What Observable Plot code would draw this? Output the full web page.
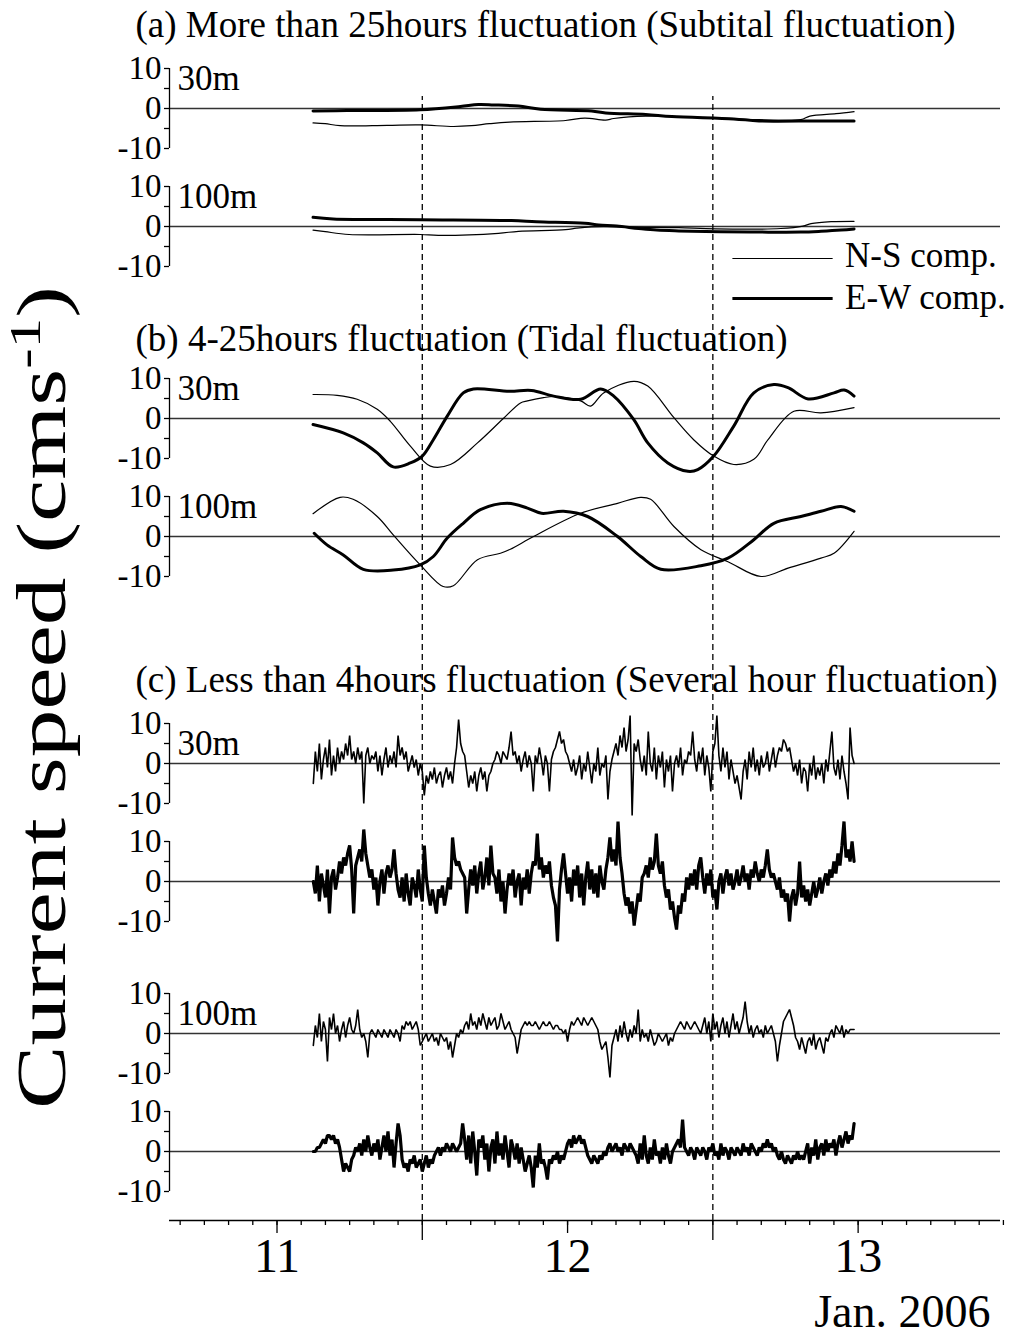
<!DOCTYPE html>
<html><head><meta charset="utf-8">
<script src="https://cdn.jsdelivr.net/npm/d3@7"></script>
<script src="https://cdn.jsdelivr.net/npm/@observablehq/plot@0.6"></script>
<style>
html,body{margin:0;padding:0;background:#fff;}
</style>
</head><body><div id="chart"></div>
<script>
// ---------------- DATA (day of Jan. 2006, cm/s) ----------------
const a30_NS = [[11.124,-3.6],[11.166,-3.8],[11.217,-4.3],[11.379,-4.2],[11.493,-4.1],[11.607,-4.5],[11.669,-4.3],[11.731,-3.8],[11.800,-3.4],[11.993,-3.0],[12.059,-2.4],[12.131,-2.9],[12.159,-2.5],[12.269,-1.9],[12.459,-2.2],[12.572,-2.5],[12.659,-2.8],[12.803,-2.8],[12.834,-1.9],[12.924,-1.3],[12.986,-0.8]];
const a30_EW = [[11.124,-0.6],[11.241,-0.5],[11.493,-0.3],[11.631,0.5],[11.693,1.0],[11.745,0.9],[11.831,0.6],[11.907,-0.2],[12.083,-0.6],[12.131,-1.1],[12.269,-1.5],[12.359,-2.0],[12.572,-2.6],[12.659,-3.1],[12.859,-3.1],[12.986,-3.1]];
const a100_NS = [[11.124,-0.9],[11.166,-1.3],[11.248,-2.0],[11.493,-2.0],[11.555,-2.2],[11.762,-1.7],[11.831,-1.2],[11.993,-0.8],[12.031,-0.4],[12.083,-0.1],[12.286,-0.2],[12.383,-0.3],[12.510,-0.6],[12.734,-0.5],[12.810,0.1],[12.838,0.7],[12.907,1.2],[12.986,1.3]];
const a100_EW = [[11.124,2.3],[11.193,1.9],[11.493,1.7],[11.807,1.5],[11.893,1.2],[12.059,0.8],[12.107,0.4],[12.169,0.1],[12.245,-0.5],[12.307,-0.9],[12.383,-1.1],[12.528,-1.3],[12.666,-1.4],[12.803,-1.4],[12.872,-1.2],[12.941,-0.9],[12.986,-0.6]];

const b30_NS = [[11.124,6.0],[11.207,5.8],[11.276,4.8],[11.345,2.3],[11.390,-0.7],[11.459,-6.9],[11.528,-11.9],[11.597,-11.5],[11.690,-6.1],[11.779,0.0],[11.838,3.9],[11.862,4.4],[11.917,5.2],[11.952,5.5],[12.045,4.4],[12.079,3.1],[12.124,6.4],[12.228,9.3],[12.276,8.1],[12.366,0.2],[12.434,-5.3],[12.503,-9.4],[12.572,-11.5],[12.641,-10.2],[12.690,-5.3],[12.779,1.8],[12.872,1.4],[12.986,2.7]];
const b30_EW = [[11.124,-1.5],[11.228,-3.6],[11.297,-6.1],[11.345,-8.6],[11.400,-12.1],[11.459,-11.1],[11.500,-9.4],[11.538,-5.3],[11.586,0.6],[11.641,6.4],[11.676,7.4],[11.800,6.8],[11.876,7.0],[11.952,5.6],[12.045,4.8],[12.114,7.4],[12.159,5.6],[12.228,-0.3],[12.276,-6.1],[12.345,-11.1],[12.414,-13.2],[12.448,-12.8],[12.503,-9.4],[12.572,-1.9],[12.641,6.4],[12.710,8.5],[12.759,7.7],[12.828,4.9],[12.917,6.4],[12.952,7.1],[12.986,5.6]];
const b100_NS = [[11.124,5.7],[11.217,9.8],[11.262,9.3],[11.345,5.0],[11.400,0.4],[11.493,-7.1],[11.572,-12.5],[11.607,-12.3],[11.690,-5.8],[11.769,-4.2],[11.803,-3.2],[11.883,0.0],[12.045,5.8],[12.172,8.3],[12.252,9.8],[12.286,9.3],[12.366,2.5],[12.459,-3.3],[12.552,-6.3],[12.666,-10.0],[12.759,-7.9],[12.872,-5.4],[12.917,-4.2],[12.986,1.3]];
const b100_EW = [[11.128,0.8],[11.172,-2.1],[11.228,-4.6],[11.297,-8.2],[11.400,-8.4],[11.493,-7.1],[11.538,-5.0],[11.586,-0.4],[11.641,3.3],[11.700,6.7],[11.793,8.3],[11.862,7.1],[11.910,5.8],[11.986,6.3],[12.069,5.0],[12.172,0.0],[12.252,-5.0],[12.321,-8.2],[12.459,-7.3],[12.552,-5.4],[12.641,-0.8],[12.710,3.3],[12.803,5.0],[12.872,6.3],[12.941,7.5],[12.986,6.3]];

// (c) 10-minute samples starting 11.125
const cStart = 11.125, cStep = 1 / 144;
const c30_NS = [
  -5,3,-2,5,-4,1,4,-1,6,-3, 2,-2,4,0,3,1,5,2,7,1, 3,0,4,1,3,-10,2,4,0,2, 1,3,-2,2,-3,1,4,-1,2,0,
  3,-1,7,2,4,1,3,-2,0,2, -1,1,-3,0,-2,-8,-3,-5,-2,-4, -1,-5,-3,-2,-6,-3,-1,-4,-2,-5, 0,4,11,5,3,2,-2,-6,-3,-5,
  -2,-7,-3,-1,-4,-2,-7,-3,-2,0, 1,3,2,0,3,2,1,4,8,2, 3,0,2,-2,1,3,-1,2,0,-7, 2,0,4,1,-3,2,0,-7,1,3,
  4,6,8,5,6,3,2,0,-2,1, -3,-1,2,-4,0,-2,3,-1,-5,0, -2,4,-3,0,-1,2,-9,-2,1,3, 5,2,7,4,9,3,6,12,-13,5,
  3,6,1,-2,2,-3,8,0,-2,4, -4,2,-1,3,-6,1,-2,2,-7,0, 2,-1,4,-3,1,0,3,2,8,1, -2,3,0,4,-3,2,-1,-7,3,5,
  12,2,-2,4,-1,3,-4,1,-2,-5, -3,-6,-9,-2,1,-4,3,-1,4,-2, 1,-3,2,-1,0,3,-2,1,4,-1, 2,4,3,6,5,3,4,1,-2,0,
  -3,1,-5,-1,-2,-7,0,-3,2,-4, -1,-3,0,-5,1,-2,3,8,-1,-3, 1,-4,2,-2,-5,-9,9,2,0];
const c30_EW = [
  0,-3,4,-5,2,-1,-4,3,-8,1, 3,-2,1,5,2,6,4,7,9,3, -8,4,6,8,5,13,7,4,1,3, -2,1,-6,0,3,-3,2,4,1,3,
  8,2,-2,-4,1,-5,2,-3,-6,1, -1,-4,3,-2,-5,9,1,-3,-6,-2, -5,-8,-2,-4,-1,-6,-3,1,-2,11, 6,4,5,3,2,1,-8,-2,3,-1,
  4,-3,2,5,-2,1,6,-1,9,2, 1,-3,3,-5,0,-8,-2,2,-1,3, -4,0,2,-6,1,-2,3,-3,2,5, 4,12,3,6,1,4,2,5,-1,-4,
  -6,-15,-2,3,7,2,-3,1,-5,3, -1,4,-4,2,-6,1,5,-2,3,-3, 2,-4,4,0,-2,3,6,11,5,8, 4,15,6,2,-3,-6,-4,-8,-5,-11,
  -7,-3,-5,1,2,4,1,6,3,5, 12,4,2,5,-1,-4,-2,-7,-5,-9, -12,-6,-8,-3,-5,1,-2,2,-1,3, -2,4,6,1,-3,2,-1,3,-4,-2,
  -7,0,2,-3,1,3,-1,2,-2,0, 3,-1,1,4,0,2,-2,3,1,5, 2,0,3,1,4,8,3,1,2,0, -2,1,-4,-2,-5,-3,-10,-4,-2,-6,
  -3,5,-4,-1,-5,-2,-6,-3,0,-4, -2,1,-3,0,2,-1,3,1,5,2, 7,4,9,15,6,8,5,10,5];
const c100_NS = [
  -3,2,-1,5,-2,3,1,-7,4,1, 5,0,2,-2,1,3,-1,2,4,1, 0,2,6,1,-1,0,-2,-6,0,1, 0,-1,1,0,-1,1,0,-1,1,0,
  -1,1,0,-2,2,1,3,2,3,1, 2,3,1,-3,-2,-1,0,-2,-1,0, -2,-1,-3,0,-1,-2,-1,-4,-2,-6, -3,0,-1,1,0,2,3,1,5,2,
  3,1,4,2,5,3,1,4,2,3, 4,1,2,5,3,1,2,3,1,0, -1,-5,-2,1,2,3,2,3,2,2, 3,2,1,2,3,2,2,3,2,1,
  2,2,1,1,0,1,-2,1,3,2, 3,4,3,2,4,3,2,3,4,3, 2,1,-2,-4,-3,-2,-6,-11,-3,-1, 1,-2,2,-1,3,0,-2,1,-1,2,
  0,6,-2,1,-1,0,-2,1,-1,-3, -2,0,-1,-2,-1,0,-3,-1,-2,0, 1,2,3,2,1,3,2,1,2,3, 2,1,0,2,4,0,3,-2,5,1,
  3,-1,2,4,0,3,-1,2,5,1, 3,0,2,4,8,3,0,2,-1,1, 2,0,1,-1,2,0,1,2,0,-2, -7,-3,0,3,4,5,6,4,2,-1,
  -2,-4,-1,-3,-5,-2,-1,-3,0,-4, -2,-1,-3,-5,-1,-2,0,1,-1,2, 1,0,2,-1,1,0,1,1,1];
const c100_EW = [
  0,0,1,1,2,3,2,4,4,3, 4,2,3,1,-2,-5,-3,-4,-5,-2, -1,1,0,2,-1,3,0,4,1,-1, 2,0,3,-2,1,4,0,5,-1,3,
  -4,2,7,4,-2,-4,-3,-5,-2,-3, -1,-4,-3,-2,-5,-3,-1,-4,-2,-3, -1,0,1,-1,1,0,2,1,0,2, 1,0,1,2,7,3,-2,4,-3,5,
  0,-6,3,1,4,-2,2,-5,1,3, -3,5,-1,2,-2,4,0,-4,3,1, -2,2,-3,1,-2,-5,-3,-1,-4,-9, -1,-4,2,-3,-2,-4,-7,-2,-3,-1,
  -2,0,-3,-1,-2,0,2,3,1,4, 2,3,4,2,3,1,-1,-2,-3,-1, -2,-3,-1,-2,0,-1,1,2,0,1, 2,0,1,-1,2,1,0,2,1,0,
  -1,-3,2,-2,4,-1,-3,1,-2,3, -1,0,-3,1,-2,2,-1,-3,0,1, 2,3,1,8,1,0,-1,1,0,-2, 1,0,-1,1,0,-2,1,0,2,-1,
  0,-2,2,-1,1,0,-2,1,0,-1, 1,0,-1,2,0,1,-1,2,1,0, -1,1,0,2,1,3,1,2,0,1, -1,-2,0,-2,-3,-1,-2,-3,-1,-2,
  0,-2,-1,-2,0,2,-3,1,-1,3, -2,1,2,-1,3,0,2,1,3,-1, 2,4,1,3,5,2,4,3,7];

const yTickValues = [-10, -5, 0, 5, 10];
const yTickLabels = ["-10", "", "0", "", "10"];
const xMajorTicks = [11, 12, 13];
const xHalfTicks = [11.5, 12.5];
const titles = ["(a) More than 25hours fluctuation (Subtital fluctuation)",
                "(b) 4-25hours fluctuation (Tidal fluctuation)",
                "(c) Less than 4hours fluctuation (Several hour fluctuation)"];
const depthLabels = ["30m", "100m"];
const legendLabels = ["N-S comp.", "E-W comp."];

// ---------------- LAYOUT ----------------
const xDomain = [10.63, 13.49];
const off = {a30: 278, a100: 248.5, b30: 200.5, b100: 171, c30ns: 114.25, c30ew: 84.75, c100ns: 46.75, c100ew: 17.25};
const offsets = Object.values(off);
const titleY = [25, 339, 680];   // pixel rows of the panel titles
const FONT = "'Liberation Serif', 'Times New Roman', Times, serif";

const pairs = (arr, o) => arr.map(([t, v]) => ({t, y: v + o}));
const samples = (arr, o) => arr.map((v, i) => ({t: cStart + i * cStep, y: v + o}));
const yTicks = offsets.flatMap(o => yTickValues.map(v => o + v));
const yFmt = d => {
  const o = offsets.find(o => Math.abs(d - o) <= 10.01);
  const k = yTickValues.indexOf(Math.round(d - o));
  return k >= 0 ? yTickLabels[k] : "";
};
const minorTicks = d3.range(128, 163).map(k => k / 12);

const thin = 1.2, thick = 3;
const smooth = (w) => ({x: "t", y: "y", stroke: "black", strokeWidth: w, strokeLinejoin: "round", curve: "catmull-rom"});
const noisy = (w) => ({x: "t", y: "y", stroke: "black", strokeWidth: w, strokeLinejoin: "miter"});

const plot = Plot.plot({
  width: 1019, height: 1338,
  marginLeft: 169, marginRight: 19, marginTop: 0, marginBottom: 118,
  x: {domain: xDomain, axis: null},
  y: {domain: [0, 305], axis: null},
  style: {fontFamily: FONT, background: "white", color: "black", overflow: "visible"},
  marks: [
    Plot.ruleY(offsets, {x1: xDomain[0], x2: xDomain[1], stroke: "#333", strokeWidth: 1.5}),
    Plot.ruleX(offsets, {x: xDomain[0], y1: d => d - 10, y2: d => d + 10, stroke: "black", strokeWidth: 1.3}),
    Plot.axisY({ticks: yTicks, anchor: "left", tickSize: 5, tickPadding: 3, fontSize: 33, tickFormat: yFmt, label: null, strokeWidth: 1.3}),
    Plot.ruleX(xHalfTicks, {y1: 0, y2: 281, stroke: "black", strokeWidth: 1.3, strokeDasharray: "6,4"}),
    Plot.ruleY([0], {stroke: "black", strokeWidth: 1.6}),
    Plot.axisX({ticks: minorTicks, tickSize: 5, tickFormat: () => "", label: null, strokeWidth: 1.3}),
    Plot.axisX({ticks: xHalfTicks, tickSize: 20, tickFormat: () => "", label: null, strokeWidth: 1.3}),
    Plot.axisX({ticks: xMajorTicks, tickSize: 13, tickPadding: 4, fontSize: 48, tickFormat: d => String(d), label: null, strokeWidth: 1.3}),
    // (a)
    Plot.line(pairs(a30_NS, off.a30), smooth(thin)),
    Plot.line(pairs(a30_EW, off.a30), smooth(thick)),
    Plot.line(pairs(a100_NS, off.a100), smooth(thin)),
    Plot.line(pairs(a100_EW, off.a100), smooth(thick)),
    // (b)
    Plot.line(pairs(b30_NS, off.b30), smooth(thin)),
    Plot.line(pairs(b30_EW, off.b30), smooth(thick)),
    Plot.line(pairs(b100_NS, off.b100), smooth(thin)),
    Plot.line(pairs(b100_EW, off.b100), smooth(thick)),
    // (c)
    Plot.line(samples(c30_NS, off.c30ns), noisy(1.6)),
    Plot.line(samples(c30_EW, off.c30ew), noisy(3.2)),
    Plot.line(samples(c100_NS, off.c100ns), noisy(1.6)),
    Plot.line(samples(c100_EW, off.c100ew), noisy(3.2)),
    // panel titles
    Plot.text(titles, {frameAnchor: "top-left", textAnchor: "start", lineAnchor: "middle", fontSize: 37, text: d => d}),
    // depth labels
    Plot.text([
      {y: off.a30 + 7.5, s: depthLabels[0]}, {y: off.a100 + 7.5, s: depthLabels[1]},
      {y: off.b30 + 7.5, s: depthLabels[0]}, {y: off.b100 + 7.5, s: depthLabels[1]},
      {y: off.c30ns + 5, s: depthLabels[0]}, {y: off.c100ns + 5, s: depthLabels[1]}
    ], {x: xDomain[0], y: "y", text: "s", dx: 8, textAnchor: "start", lineAnchor: "middle", fontSize: 35}),
    // legend
    Plot.ruleY([{y: 240.5, w: thin}, {y: 230.5, w: thick}], {x1: 12.569, x2: 12.914, y: "y", strokeWidth: "w", stroke: "black"}),
    Plot.text([{y: 241.2, s: legendLabels[0]}, {y: 230.8, s: legendLabels[1]}], {x: 12.955, y: "y", text: "s", textAnchor: "start", lineAnchor: "middle", fontSize: 35}),
    // x label
    Plot.text(["Jan. 2006"], {frameAnchor: "bottom-right", dx: -10, dy: 92, textAnchor: "end", lineAnchor: "middle", fontSize: 46, text: d => d}),
    // y title
    Plot.text(["Current speed (cms-1)"], {frameAnchor: "left", dx: -127, dy: 87, rotate: -90, textAnchor: "middle", lineAnchor: "middle", fontSize: 70, text: d => d})
  ]
});

document.getElementById("chart").appendChild(plot);

const ns = "http://www.w3.org/2000/svg";
plot.querySelectorAll("text").forEach(el => {
  const k = titles.indexOf(el.textContent);
  if (k >= 0) el.setAttribute("transform", `translate(135,${titleY[k]})`);
  if (el.textContent === "Current speed (cms-1)") {
    el.textContent = "";
    const t1 = document.createElementNS(ns, "tspan"); t1.textContent = "Current speed (cms";
    const t2 = document.createElementNS(ns, "tspan"); t2.textContent = "-1"; t2.setAttribute("font-size", "45"); t2.setAttribute("dy", "-25");
    const t3 = document.createElementNS(ns, "tspan"); t3.textContent = ")"; t3.setAttribute("dy", "25");
    el.append(t1, t2, t3);
    el.setAttribute("transform", el.getAttribute("transform") + " scale(1.36,1)");
  }
});
</script></body></html>
